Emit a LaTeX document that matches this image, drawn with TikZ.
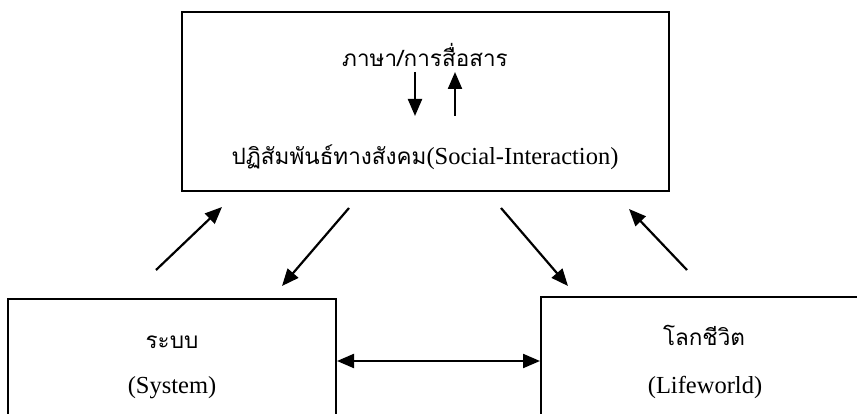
\documentclass[tikz,border=0pt]{standalone}
\usepackage{fontspec}
\setmainfont{Liberation Serif}
\newfontfamily\thaifont[Script=Thai]{Loma}
\usetikzlibrary{arrows.meta}

\newcommand{\thaitxt}[1]{{\thaifont\fontsize{22.5}{26}\selectfont #1}}

\begin{document}
\begin{tikzpicture}[x=1pt, y=-1pt,
  box/.style={draw, line width=2pt, inner sep=0pt},
  label/.style={inner sep=0pt, font=\fontsize{24.5}{28}\selectfont},
  arr/.style={line width=2.2pt, -{Triangle[length=17pt, width=14pt]}},
  dblarr/.style={line width=2.2pt, {Triangle[length=17pt, width=14pt]}-{Triangle[length=17pt, width=14pt]}}]

\useasboundingbox (0,0) rectangle (857,414);
\clip (0,0) rectangle (857,414);

% boxes
\node[box, minimum width=487pt, minimum height=179pt] (interaction) at (425.5,101.5) {};
\node[box, minimum width=328pt, minimum height=141pt] (system) at (172,369.5) {};
\node[box, minimum width=339pt, minimum height=143pt] (lifeworld) at (710.5,368.5) {};

% texts
\node[label] (lang) at (425,55) {\thaitxt{ภาษา/การสื่อสาร}};
\node[label] (social) at (425,157) {\thaitxt{ปฏิสัมพันธ์ทางสังคม}(Social-Interaction)};
\node[label] (systh) at (172,342) {\thaitxt{ระบบ}};
\node[label] (sysen) at (172,388) {(System)};
\node[label] (lifeth) at (704,335) {\thaitxt{โลกชีวิต}};
\node[label] (lifeen) at (705,387) {(Lifeworld)};

% arrows inside
\coordinate (down1) at (415,72);
\coordinate (down2) at (415,116);
\coordinate (up1) at (455,116);
\coordinate (up2) at (455,72);
\draw[arr] (down1) -- (down2);
\draw[arr] (up1) -- (up2);

% diagonal arrows
\coordinate (a1) at (156,270);
\coordinate (a2) at (222,207);
\coordinate (b1) at (349,208);
\coordinate (b2) at (282,286);
\coordinate (c1) at (501,208);
\coordinate (c2) at (568,286);
\coordinate (d1) at (687,270);
\coordinate (d2) at (629,209);
\draw[arr] (a1) -- (a2);
\draw[arr] (b1) -- (b2);
\draw[arr] (c1) -- (c2);
\draw[arr] (d1) -- (d2);

% system <-> lifeworld
\coordinate (mid) at (440,361);
\draw[dblarr] (system.east |- mid) -- (lifeworld.west |- mid);

\end{tikzpicture}
\end{document}
